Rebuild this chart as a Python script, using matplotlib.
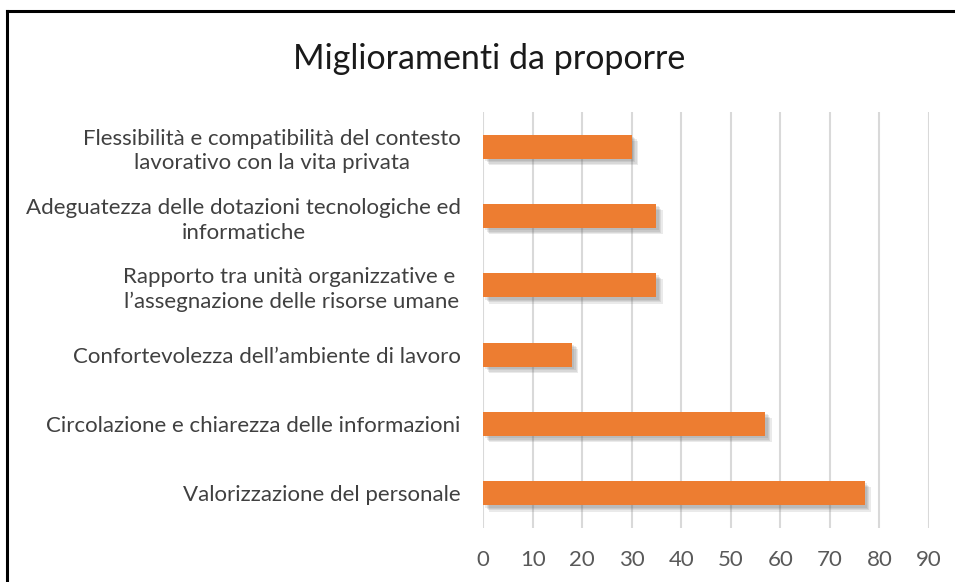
import matplotlib.pyplot as plt
import matplotlib.patheffects as pe
from matplotlib.lines import Line2D

# categories from bottom to top, as drawn on the y axis
categories = [
    "Valorizzazione del personale",
    "Circolazione e chiarezza delle informazioni",
    "Confortevolezza dell\u2019ambiente di lavoro",
    "Rapporto tra unit\u00e0 organizzative e \nl\u2019assegnazione delle risorse umane",
    "Adeguatezza delle dotazioni tecnologiche ed\ninformatiche",
    "Flessibilit\u00e0 e compatibilit\u00e0 del contesto\nlavorativo con la vita privata",
]
values = [77, 57, 18, 35, 35, 30]
xticks = [0, 10, 20, 30, 40, 50, 60, 70, 80, 90]

plt.rcParams['font.family'] = ['Lato', 'DejaVu Sans']

fig = plt.figure(figsize=(9.55, 5.82), dpi=100)
ax = fig.add_axes([0.5058, 0.0928, 0.4670, 0.7148])

bar_color = '#ed7d31'
bars = ax.barh(range(len(categories)), values, height=0.35, color=bar_color, zorder=3)
# soft drop shadow built from a few offset layers
shadow = [pe.SimplePatchShadow(offset=(d, -d), shadow_rgbFace='#606060', alpha=0.13)
          for d in (1.5, 2.5, 3.5, 4.5)]
for b in bars:
    b.set_path_effects(shadow + [pe.Normal()])

ax.set_xlim(0, 90)
ax.set_ylim(-0.5, len(categories) - 0.5)
ax.set_xticks(xticks)
ax.set_yticks(range(len(categories)))
ax.set_yticklabels(categories, multialignment='center', linespacing=1.3)
ax.tick_params(axis='y', length=0, pad=16, labelsize=16, labelcolor='#404040')
ax.tick_params(axis='x', length=0, pad=16, labelsize=16, labelcolor='#595959')
ax.grid(axis='x', color='#d9d9d9', linewidth=1.5, zorder=0)
ax.set_axisbelow(True)
for s in ax.spines.values():
    s.set_visible(False)

fig.text(0.512, 0.898, "Miglioramenti da proporre", ha='center', va='center',
         fontsize=24.5, color='#1a1a1a')

# outer frame (left and top edges)
fig.add_artist(Line2D([7 / 955, 7 / 955], [0, 1 - 11 / 582], color='black',
                      linewidth=2.2, transform=fig.transFigure))
fig.add_artist(Line2D([7 / 955, 1], [1 - 11 / 582, 1 - 11 / 582], color='black',
                      linewidth=2.2, transform=fig.transFigure))

fig.savefig('out.png', dpi=100)
